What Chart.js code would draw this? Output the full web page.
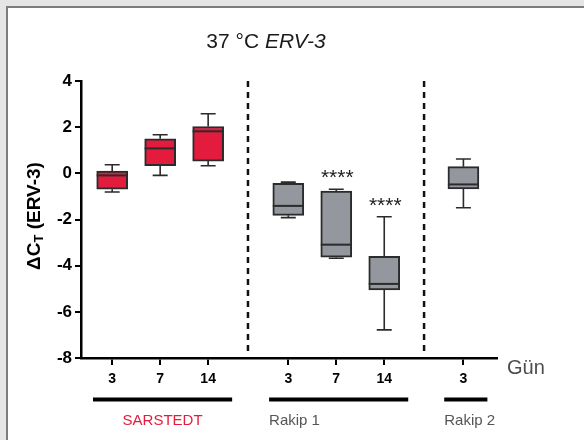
<!DOCTYPE html>
<html>
<head>
<meta charset="utf-8">
<script src="https://cdn.jsdelivr.net/npm/chart.js@4"></script>
<style>
body{margin:0;background:#e5e5e6;}
#frame{position:absolute;left:6px;top:6px;width:600px;height:460px;background:#fff;border-left:2px solid #7c7c7c;border-top:2px solid #7c7c7c;}
#chart{position:absolute;left:0;top:0;}
</style>
</head>
<body>
<div id="frame"></div>
<canvas id="chart" width="584" height="440"></canvas>
<script>
// categories (day) and their x place on the axis
const days=['3','7','14','3','7','14','3'];
const xPos=[0,1,2,3.67,4.67,5.67,7.32];
const groupOf=[0,0,0,1,1,1,2];
const groups=['SARSTEDT','Rakip 1','Rakip 2'];
const dividers=[2.83,6.5];

// box plot values (delta CT)
const whiskerMin=[-0.81,-0.09,0.33,-1.92,-3.68,-6.78,-1.49];
const q1=[-0.69,0.33,0.53,-1.82,-3.63,-5.05,-0.68];
const median=[-0.09,1.08,1.82,-1.41,-3.09,-4.79,-0.48];
const q3=[0.10,1.50,2.03,-0.43,-0.77,-3.60,0.29];
const whiskerMax=[0.37,1.67,2.58,-0.38,-0.69,-1.88,0.62];
const signif=['','','','','****','****',''];

const yTicks=[-8,-6,-4,-2,0,2,4];

const red='#e31c3d';
const grey='#95979f';
const dark='#2b2b2b';

const boxColors=groupOf.map(g=>g===0?red:grey);

const boxPlugin={
    id:'boxExtras',
    beforeDatasetsDraw(chart){
        const ctx=chart.ctx;
        const xs=chart.scales.x, ys=chart.scales.y;
        const area=chart.chartArea;
        // dashed dividers
        ctx.save();
        ctx.strokeStyle='#111';
        ctx.lineWidth=2.5;
        ctx.setLineDash([6,5]);
        dividers.forEach(d=>{
            const px=xs.getPixelForValue(d);
            ctx.beginPath();
            ctx.moveTo(px,area.top);
            ctx.lineTo(px,area.bottom-3);
            ctx.stroke();
        });
        ctx.restore();
        // whiskers
        ctx.save();
        ctx.strokeStyle=dark;
        ctx.lineWidth=1.6;
        xPos.forEach((x,i)=>{
            const px=xs.getPixelForValue(x);
            const capW=7.5;
            [[q3[i],whiskerMax[i]],[q1[i],whiskerMin[i]]].forEach(([a,b])=>{
                const pa=ys.getPixelForValue(a), pb=ys.getPixelForValue(b);
                ctx.beginPath();
                ctx.moveTo(px,pa);ctx.lineTo(px,pb);
                ctx.moveTo(px-capW,pb);ctx.lineTo(px+capW,pb);
                ctx.stroke();
            });
        });
        ctx.restore();
    },
    afterDatasetsDraw(chart){
        const ctx=chart.ctx;
        const xs=chart.scales.x, ys=chart.scales.y;
        ctx.save();
        ctx.strokeStyle=dark;
        ctx.lineWidth=2;
        xPos.forEach((x,i)=>{
            const px=xs.getPixelForValue(x);
            const py=ys.getPixelForValue(median[i]);
            ctx.beginPath();
            ctx.moveTo(px-15.5,py);ctx.lineTo(px+15.5,py);
            ctx.stroke();
            if(signif[i]){
                ctx.fillStyle='#222';
                ctx.font='21px "Liberation Sans", Arial, sans-serif';
                ctx.textAlign='center';
                ctx.textBaseline='alphabetic';
                ctx.fillText(signif[i],px+1,ys.getPixelForValue(whiskerMax[i])-5);
            }
        });
        ctx.restore();
    },
    afterDraw(chart){
        const ctx=chart.ctx;
        const xs=chart.scales.x;
        ctx.save();
        // title
        const t1='37 °C ', t2='ERV-3';
        ctx.fillStyle='#1a1a1a';
        ctx.textBaseline='middle';
        ctx.textAlign='left';
        ctx.font='21px "Liberation Sans", Arial, sans-serif';
        const w1=ctx.measureText(t1).width;
        ctx.font='italic 21px "Liberation Sans", Arial, sans-serif';
        const w2=ctx.measureText(t2).width;
        let tx=266-(w1+w2)/2;
        ctx.font='21px "Liberation Sans", Arial, sans-serif';
        ctx.fillText(t1,tx,42);
        ctx.font='italic 21px "Liberation Sans", Arial, sans-serif';
        ctx.fillText(t2,tx+w1,42);

        // y axis title with subscript
        ctx.save();
        ctx.translate(35,216);
        ctx.rotate(-Math.PI/2);
        ctx.fillStyle='#000';
        ctx.textBaseline='middle';
        const big='bold 19px "Liberation Sans", Arial, sans-serif';
        const small='bold 13px "Liberation Sans", Arial, sans-serif';
        const parts=[['ΔC',big,0],['T',small,4],[' (ERV-3)',big,0]];
        let total=0;
        parts.forEach(p=>{ctx.font=p[1];total+=ctx.measureText(p[0]).width;});
        let lx=-total/2;
        parts.forEach(p=>{
            ctx.font=p[1];
            ctx.fillText(p[0],lx,p[2]);
            lx+=ctx.measureText(p[0]).width;
        });
        ctx.restore();

        // axis unit
        ctx.fillStyle='#4d4d4d';
        ctx.font='20px "Liberation Sans", Arial, sans-serif';
        ctx.textAlign='left';
        ctx.textBaseline='middle';
        ctx.fillText('Gün',507,368);

        // group bars and names
        groups.forEach((name,g)=>{
            const members=xPos.filter((x,i)=>groupOf[i]===g);
            const a=xs.getPixelForValue(Math.min(...members)-0.4);
            const b=xs.getPixelForValue(Math.max(...members)+0.5);
            ctx.strokeStyle='#000';
            ctx.lineWidth=4;
            ctx.beginPath();
            ctx.moveTo(a,399.5);ctx.lineTo(b,399.5);
            ctx.stroke();
            ctx.font='15px "Liberation Sans", Arial, sans-serif';
            ctx.textBaseline='middle';
            if(g===0){
                ctx.fillStyle=red;
                ctx.textAlign='center';
                ctx.fillText(name,(a+b)/2,421);
            }else{
                ctx.fillStyle='#555';
                ctx.textAlign='left';
                ctx.fillText(name,a,421);
            }
        });
        ctx.restore();
    }
};

const ctx=document.getElementById('chart').getContext('2d');
new Chart(ctx,{
    type:'bar',
    data:{
        datasets:[{
            data:xPos.map((x,i)=>({x:x,y:[q1[i],q3[i]]})),
            backgroundColor:boxColors,
            borderColor:dark,
            borderWidth:2,
            borderSkipped:false,
            barThickness:31
        }]
    },
    options:{
        responsive:false,
        animation:false,
        layout:{padding:{left:0,top:81,right:87,bottom:0}},
        plugins:{legend:{display:false},tooltip:{enabled:false}},
        scales:{
            x:{
                type:'linear',
                offset:false,
                min:-0.65,
                max:8.02,
                afterBuildTicks:(scale)=>{scale.ticks=xPos.map(v=>({value:v}));},
                afterFit:(scale)=>{scale.height=82;},
                ticks:{
                    autoSkip:false,
                    maxRotation:0,
                    padding:6,
                    color:'#000',
                    font:{family:'"Liberation Sans", Arial, sans-serif',size:14,weight:'bold'},
                    callback:(v,i)=>days[i]
                },
                grid:{drawOnChartArea:false,offset:false,color:'#000',lineWidth:2,tickLength:7},
                border:{color:'#000',width:2.5}
            },
            y:{
                min:-8,
                max:4,
                afterBuildTicks:(scale)=>{scale.ticks=yTicks.map(v=>({value:v}));},
                afterFit:(scale)=>{scale.width=81;},
                ticks:{
                    padding:3,
                    color:'#000',
                    font:{family:'"Liberation Sans", Arial, sans-serif',size:17,weight:'bold'},
                    callback:(v)=>String(v)
                },
                grid:{drawOnChartArea:false,color:'#000',lineWidth:2,tickLength:6},
                border:{color:'#000',width:2.5}
            }
        }
    },
    plugins:[boxPlugin]
});
</script>
</body>
</html>
